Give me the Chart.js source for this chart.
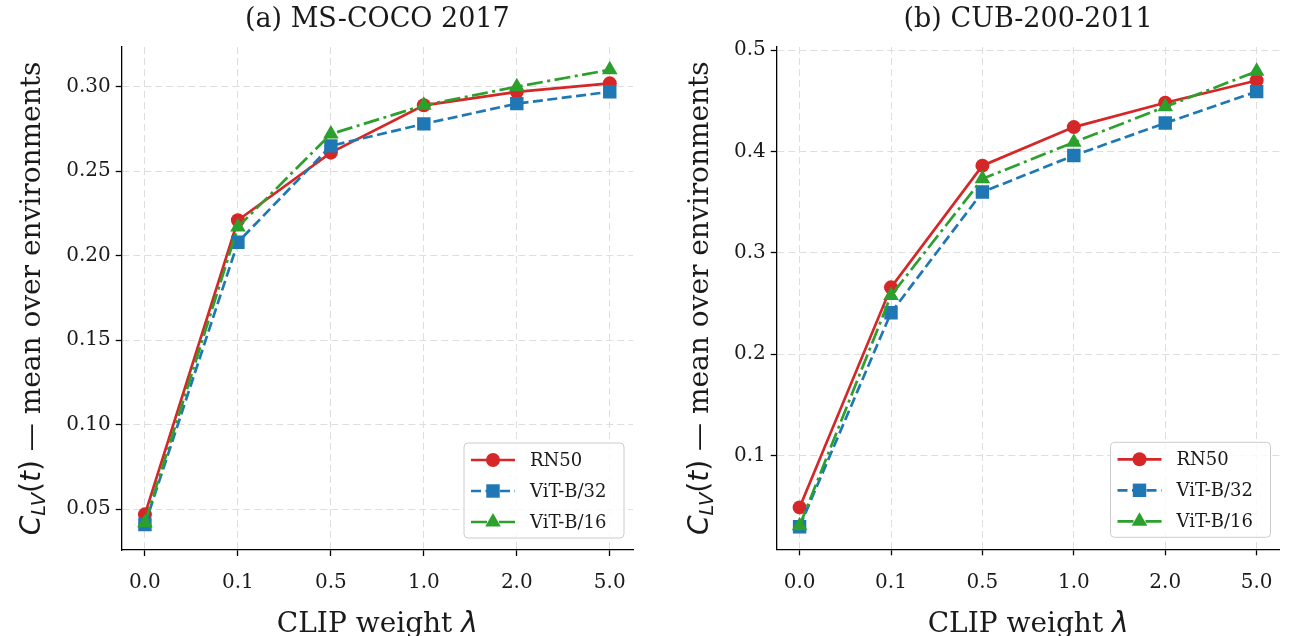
<!DOCTYPE html>
<html>
<head>
<meta charset="utf-8">
<script src="https://cdn.jsdelivr.net/npm/chart.js@4.4.1/dist/chart.umd.min.js"></script>
<style>
    html, body { margin: 0; padding: 0; background: #fff; }
    #wrap { position: relative; width: 1289px; height: 636px; overflow: hidden; }
    canvas { position: absolute; top: 0; }
    #cocoChart { left: 0; }
    #cubChart { left: 645px; }
</style>
</head>
<body>
<div id="wrap">
    <canvas id="cocoChart" width="645" height="636"></canvas>
    <canvas id="cubChart" width="644" height="636"></canvas>
</div>
<script>
// CLIP weight values (x axis)
const categories = ['0.0', '0.1', '0.5', '1.0', '2.0', '5.0'];

// (a) MS-COCO 2017
const cocoRN50 = [0.047, 0.221, 0.261, 0.289, 0.297, 0.302];
const cocoVitB32 = [0.041, 0.208, 0.265, 0.278, 0.290, 0.297];
const cocoVitB16 = [0.042, 0.217, 0.272, 0.289, 0.300, 0.310];
const cocoTicks = [0.05, 0.10, 0.15, 0.20, 0.25, 0.30];

// (b) CUB-200-2011
const cubRN50 = [0.049, 0.266, 0.386, 0.424, 0.448, 0.470];
const cubVitB32 = [0.030, 0.241, 0.360, 0.396, 0.428, 0.459];
const cubVitB16 = [0.031, 0.258, 0.373, 0.409, 0.444, 0.479];
const cubTicks = [0.1, 0.2, 0.3, 0.4, 0.5];

const SERIF = '"DejaVu Serif", serif';
const MATH = '"DejaVu Sans", sans-serif';
const TEXT_COLOR = '#1a1a1a';
const GRID_COLOR = '#dedede';

const seriesStyle = [
    { label: 'RN50', color: '#d62728', dash: [], point: 'circle', radius: 7 },
    { label: 'ViT-B/32', color: '#1f77b4', dash: [10, 4.5], point: 'rect', radius: 9.5 },
    { label: 'ViT-B/16', color: '#2ca02c', dash: [16, 4.5, 3, 4.5], point: 'triangle', radius: 9 }
];

/**
 * Dibuja un texto formado por trozos con distintas fuentes, centrado en x
 */
function drawRuns(ctx, runs, x, y){
    let total = 0;
    runs.forEach(r => { ctx.font = r.font; total += ctx.measureText(r.text).width; });
    let cx = x - total / 2;
    ctx.textAlign = 'left';
    ctx.textBaseline = 'alphabetic';
    runs.forEach(r => {
        ctx.font = r.font;
        ctx.fillText(r.text, cx, y + (r.dy || 0));
        cx += ctx.measureText(r.text).width;
    });
}

function drawMarker(ctx, style, x, y){
    const r = style.radius;
    ctx.beginPath();
    if (style.point === 'circle') {
        ctx.arc(x, y, r, 0, Math.PI * 2);
    } else if (style.point === 'rect') {
        const s = r * Math.SQRT1_2;
        ctx.rect(x - s, y - s, 2 * s, 2 * s);
    } else {
        ctx.moveTo(x, y - r);
        ctx.lineTo(x + r * Math.sin(2 * Math.PI / 3), y - r * Math.cos(2 * Math.PI / 3));
        ctx.lineTo(x + r * Math.sin(4 * Math.PI / 3), y - r * Math.cos(4 * Math.PI / 3));
        ctx.closePath();
    }
    ctx.fill();
}

// Etiquetas de ejes (con notación matemática) y leyenda dentro del área
const figureText = {
    id: 'figureText',
    afterDraw(chart, args, opts){
        const ctx = chart.ctx;
        const area = chart.chartArea;
        ctx.save();
        ctx.fillStyle = TEXT_COLOR;

        // x label
        drawRuns(ctx, [
            { text: 'CLIP weight ', font: '28px ' + SERIF },
            { text: 'λ', font: 'italic 28px ' + MATH }
        ], (area.left + area.right) / 2, opts.xLabelY);

        // y label
        ctx.save();
        ctx.translate(opts.yLabelX, (area.top + area.bottom) / 2);
        ctx.rotate(-Math.PI / 2);
        drawRuns(ctx, [
            { text: 'C', font: 'italic 28px ' + MATH },
            { text: 'LV', font: 'italic 19.5px ' + MATH, dy: 5 },
            { text: '(', font: '28px ' + MATH },
            { text: 't', font: 'italic 28px ' + MATH },
            { text: ')', font: '28px ' + MATH },
            { text: ' \u2014 mean over environments', font: '28px ' + SERIF }
        ], 0, 10);
        ctx.restore();

        // legend
        const w = 160, h = 95;
        const lx = area.right - 9 - w;
        const ly = area.bottom - 12 - h;
        ctx.beginPath();
        ctx.roundRect(lx, ly, w, h, 4);
        ctx.fillStyle = 'rgba(255,255,255,0.8)';
        ctx.fill();
        ctx.strokeStyle = '#cccccc';
        ctx.lineWidth = 1;
        ctx.stroke();
        seriesStyle.forEach((s, i) => {
            const ry = ly + 17 + i * 31;
            ctx.strokeStyle = s.color;
            ctx.fillStyle = s.color;
            ctx.lineWidth = 2.7;
            ctx.setLineDash(s.dash);
            ctx.beginPath();
            ctx.moveTo(lx + 7, ry);
            ctx.lineTo(lx + 51, ry);
            ctx.stroke();
            ctx.setLineDash([]);
            drawMarker(ctx, s, lx + 29, ry);
            ctx.fillStyle = TEXT_COLOR;
            ctx.font = '18px ' + SERIF;
            ctx.textAlign = 'left';
            ctx.textBaseline = 'middle';
            ctx.fillText(s.label, lx + 66, ry + 1);
        });
        ctx.restore();
    }
};

function buildDatasets(values){
    return values.map((v, i) => {
        const s = seriesStyle[i];
        return {
            label: s.label,
            data: v.map((y, k) => ({ x: k, y: y })),
            borderColor: s.color,
            backgroundColor: s.color,
            borderWidth: 2.7,
            borderDash: s.dash,
            pointStyle: s.point,
            pointRadius: s.radius,
            pointBorderWidth: 0,
            pointBackgroundColor: s.color,
            tension: 0,
            order: values.length - i
        };
    });
}

function makeChart(canvasId, title, values, yTicks, yMin, yMax, decimals, layout){
    const ctx = document.getElementById(canvasId).getContext('2d');
    const gridOpts = { color: GRID_COLOR, lineWidth: 1, tickLength: 6, tickColor: '#000', tickWidth: 1.3 };
    const borderOpts = { display: true, color: '#000', width: 1.3, dash: [7, 4] };
    return new Chart(ctx, {
        type: 'line',
        data: { datasets: buildDatasets(values) },
        plugins: [figureText],
        options: {
            responsive: false,
            animation: false,
            layout: { padding: { left: 0, right: layout.padRight, top: 0, bottom: 0 } },
            plugins: {
                legend: { display: false },
                tooltip: { enabled: false },
                title: {
                    display: true,
                    text: title,
                    fullSize: false,
                    color: TEXT_COLOR,
                    font: { family: SERIF, size: 27, weight: 'normal' },
                    padding: { top: 4, bottom: 10.6 }
                },
                figureText: { xLabelY: 632, yLabelX: layout.yLabelX }
            },
            scales: {
                x: {
                    type: 'linear',
                    min: -0.25,
                    max: categories.length - 0.75,
                    afterBuildTicks: (scale) => { scale.ticks = categories.map((c, i) => ({ value: i })); },
                    afterFit: (scale) => { scale.height = layout.xHeight; },
                    ticks: {
                        autoSkip: false,
                        maxRotation: 0,
                        padding: 15,
                        color: TEXT_COLOR,
                        font: { family: SERIF, size: 20 },
                        callback: (value) => categories[Math.round(value)]
                    },
                    grid: gridOpts,
                    border: borderOpts
                },
                y: {
                    min: yMin,
                    max: yMax,
                    afterBuildTicks: (scale) => { scale.ticks = yTicks.map(t => ({ value: t })); },
                    afterFit: (scale) => { scale.width = layout.yWidth; },
                    ticks: {
                        padding: 5,
                        color: TEXT_COLOR,
                        font: { family: SERIF, size: 20 },
                        callback: (value) => value.toFixed(decimals)
                    },
                    grid: gridOpts,
                    border: borderOpts
                }
            }
        }
    });
}

makeChart('cocoChart', '(a) MS-COCO 2017',
    [cocoRN50, cocoVitB32, cocoVitB16], cocoTicks, 0.0259, 0.3235, 2,
    { padRight: 12, yWidth: 121.7, xHeight: 86, yLabelX: 30 });

makeChart('cubChart', '(b) CUB-200-2011',
    [cubRN50, cubVitB32, cubVitB16], cubTicks, 0.0077, 0.503, 1,
    { padRight: 1, yWidth: 131.75, xHeight: 86.7, yLabelX: 53 });
</script>
</body>
</html>
